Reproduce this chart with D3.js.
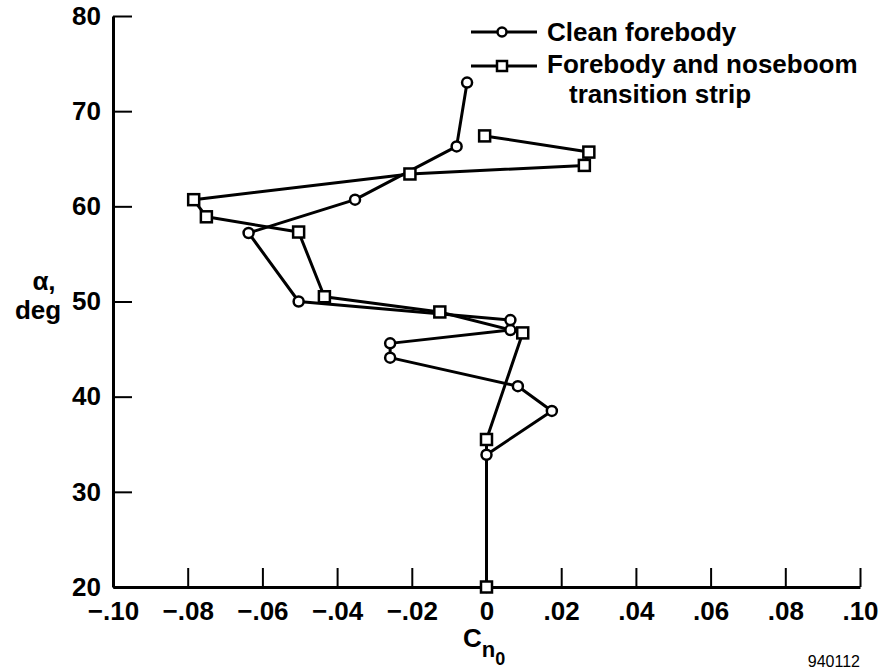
<!DOCTYPE html>
<html>
<head>
<meta charset="utf-8">
<script src="https://cdn.jsdelivr.net/npm/d3@7"></script>
<style>
  html, body { margin: 0; padding: 0; background: #fff; }
  svg { display: block; }
  text { font-family: "Liberation Sans", Arial, Helvetica, sans-serif; fill: #000; }
</style>
</head>
<body>
<svg id="chart" width="880" height="670"></svg>
<script>
// Yawing moment coefficient at zero sideslip vs. angle of attack
const cleanAlpha = [20, 33.9, 38.5, 41.1, 44.1, 45.6, 47.0, 48.05, 50.0, 57.2, 60.7, 66.3, 73.0];
const cleanCn0   = [0, 0, 0.0175, 0.0084, -0.0258, -0.0258, 0.0064, 0.0064, -0.0503, -0.0637, -0.0352, -0.0080, -0.0052];

const stripAlpha = [20, 35.5, 46.7, 48.9, 50.5, 57.3, 58.9, 60.7, 63.4, 64.3, 65.7, 67.4];
const stripCn0   = [0, 0, 0.0097, -0.0125, -0.0434, -0.0503, -0.0750, -0.0784, -0.0205, 0.0262, 0.0274, -0.0005];

const seriesNames = ["Clean forebody", "Forebody and noseboom", "transition strip"];

const xTicks = [-0.10, -0.08, -0.06, -0.04, -0.02, 0, 0.02, 0.04, 0.06, 0.08, 0.10];
const xTickLabels = ["\u2212.10", "\u2212.08", "\u2212.06", "\u2212.04", "\u2212.02", "0", ".02", ".04", ".06", ".08", ".10"];
const yTicks = [20, 30, 40, 50, 60, 70, 80];
const yTickLabels = ["20", "30", "40", "50", "60", "70", "80"];

const FONT = "'Liberation Sans', Arial, Helvetica, sans-serif";
const svg = d3.select("#chart");

const x = d3.scaleLinear().domain([-0.10, 0.10]).range([113, 860]);
const y = d3.scaleLinear().domain([20, 80]).range([587, 16]);

// Axes with inward ticks
const xAxis = d3.axisBottom(x)
  .tickValues(xTicks)
  .tickFormat((d, i) => xTickLabels[i])
  .tickSizeInner(-19).tickSizeOuter(0).tickPadding(15);
const yAxis = d3.axisLeft(y)
  .tickValues(yTicks)
  .tickFormat((d, i) => yTickLabels[i])
  .tickSizeInner(-19).tickSizeOuter(0).tickPadding(12);

const gx = svg.append("g").attr("transform", `translate(0,${y(20)})`).call(xAxis);
const gy = svg.append("g").attr("transform", `translate(${x(-0.10)},0)`).call(yAxis);

[gx, gy].forEach(g => {
  g.select(".domain").attr("stroke", "#000").attr("stroke-width", 3);
  g.selectAll(".tick line").attr("stroke", "#000").attr("stroke-width", 2);
  g.selectAll(".tick text")
    .style("font-family", FONT).style("font-weight", "bold")
    .style("font-size", "26px").attr("fill", "#000");
});

// Data lines
const line = d3.line().x(d => x(d[0])).y(d => y(d[1]));
const clean = cleanCn0.map((v, i) => [v, cleanAlpha[i]]);
const strip = stripCn0.map((v, i) => [v, stripAlpha[i]]);

svg.append("path").datum(clean).attr("d", line)
  .attr("fill", "none").attr("stroke", "#000").attr("stroke-width", 3).attr("stroke-linejoin", "round");
svg.append("path").datum(strip).attr("d", line)
  .attr("fill", "none").attr("stroke", "#000").attr("stroke-width", 3).attr("stroke-linejoin", "round");

svg.append("g").selectAll("circle").data(clean).join("circle")
  .attr("cx", d => x(d[0])).attr("cy", d => y(d[1])).attr("r", 5)
  .attr("fill", "#fff").attr("stroke", "#000").attr("stroke-width", 2.5);

const sq = 11;
svg.append("g").selectAll("rect").data(strip).join("rect")
  .attr("x", d => x(d[0]) - sq / 2).attr("y", d => y(d[1]) - sq / 2)
  .attr("width", sq).attr("height", sq)
  .attr("fill", "#fff").attr("stroke", "#000").attr("stroke-width", 2.5);

// Legend
const legend = svg.append("g");
const lx0 = 471, lx1 = 537, lxm = 502, ltx = 547;
const row1 = 32, row2 = 66;
legend.append("line").attr("x1", lx0).attr("x2", lx1).attr("y1", row1).attr("y2", row1)
  .attr("stroke", "#000").attr("stroke-width", 3);
legend.append("circle").attr("cx", lxm).attr("cy", row1).attr("r", 4.5)
  .attr("fill", "#fff").attr("stroke", "#000").attr("stroke-width", 2.5);
legend.append("line").attr("x1", lx0).attr("x2", lx1).attr("y1", row2).attr("y2", row2)
  .attr("stroke", "#000").attr("stroke-width", 3);
legend.append("rect").attr("x", lxm - 5).attr("y", row2 - 5).attr("width", 10).attr("height", 10)
  .attr("fill", "#fff").attr("stroke", "#000").attr("stroke-width", 2.5);

const bold = sel => sel.style("font-weight", "bold").style("font-size", "26px");
legend.append("text").attr("x", ltx).attr("y", 41).call(bold).text(seriesNames[0]);
legend.append("text").attr("x", ltx).attr("y", 73).call(bold).text(seriesNames[1]);
legend.append("text").attr("x", ltx + 22).attr("y", 103).call(bold).text(seriesNames[2]);

// Axis titles
svg.append("text").attr("x", 44).attr("y", 290).call(bold).attr("text-anchor", "middle").text("\u03b1,");
svg.append("text").attr("x", 38).attr("y", 319).call(bold).attr("text-anchor", "middle").text("deg");

const xt = svg.append("text").attr("x", 463).attr("y", 647).call(bold);
xt.append("tspan").text("C");
xt.append("tspan").style("font-size", "22px").attr("dy", 10).text("n");
xt.append("tspan").style("font-size", "18px").attr("dy", 8).text("0");

svg.append("text").attr("x", 860).attr("y", 667)
  .style("font-size", "16px").style("font-weight", "normal")
  .attr("text-anchor", "end").text("940112");
</script>
</body>
</html>
